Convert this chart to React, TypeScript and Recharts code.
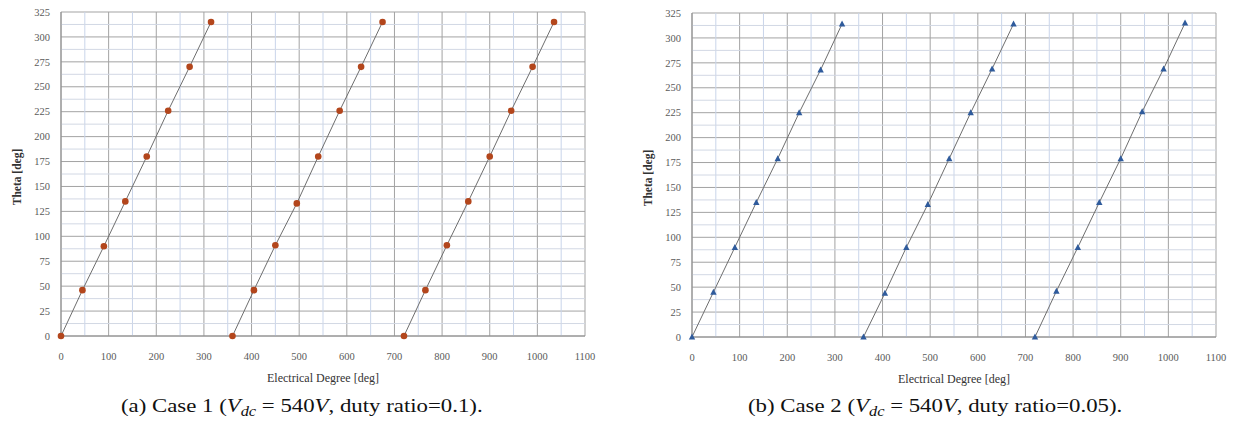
import React from 'react';
import { ScatterChart, Scatter, XAxis, YAxis, CartesianGrid, ReferenceLine } from 'recharts';

// electrical degree of each sample, three electrical periods
const xGroup1 = [0, 45, 90, 135, 180, 225, 270, 315];
const xGroup2 = [360, 405, 450, 495, 540, 585, 630, 675];
const xGroup3 = [720, 765, 810, 855, 900, 945, 990, 1035];

// Case 1 theta values
const caseA1 = [0, 46, 90, 135, 180, 226, 270, 315];
const caseA2 = [0, 46, 91, 133, 180, 226, 270, 315];
const caseA3 = [0, 46, 91, 135, 180, 226, 270, 315];

// Case 2 theta values
const caseB1 = [0, 45, 90, 135, 179, 225, 268, 314];
const caseB2 = [0, 44, 90, 133, 179, 225, 269, 314];
const caseB3 = [0, 46, 90, 135, 179, 226, 269, 315];

const xTicks = [0, 100, 200, 300, 400, 500, 600, 700, 800, 900, 1000, 1100];
const yTicks = [0, 25, 50, 75, 100, 125, 150, 175, 200, 225, 250, 275, 300, 325];
const xMinor = [50, 150, 250, 350, 450, 550, 650, 750, 850, 950, 1050];
const yMinor = [12.5, 37.5, 62.5, 87.5, 112.5, 137.5, 162.5, 187.5, 212.5, 237.5, 262.5, 287.5, 312.5];

const zip = (xs: number[], ys: number[]) => xs.map((x, i) => ({ x, y: ys[i] }));

const SERIF = "'Liberation Serif', 'DejaVu Serif', serif";
const tickStyle = { fontFamily: SERIF, fontSize: 10.5, fill: '#5a5a5a' };

const Circle = (p: any) => <circle cx={p.cx} cy={p.cy} r={3.3} fill="#b3461c" />;
const Triangle = (p: any) => (
  <polygon
    points={`${p.cx},${p.cy - 3.4} ${p.cx + 3.2},${p.cy + 2.6} ${p.cx - 3.2},${p.cy + 2.6}`}
    fill="#2f5b9c"
  />
);

const XTitle = (props: any) => {
  const vb = props.viewBox || {};
  return (
    <text
      x={vb.x + vb.width / 2}
      y={vb.y + 46}
      textAnchor="middle"
      fontFamily={SERIF}
      fontSize={12}
      fill="#333"
    >
      Electrical Degree [deg]
    </text>
  );
};

const YTitle = (props: any) => {
  const vb = props.viewBox || {};
  const x = vb.x - 0.5;
  const y = vb.y + vb.height / 2 + 3;
  return (
    <text
      x={x}
      y={y}
      textAnchor="middle"
      transform={`rotate(-90 ${x} ${y})`}
      fontFamily={SERIF}
      fontSize={11.5}
      fontWeight="bold"
      fill="#333"
    >
      Theta [deg]
    </text>
  );
};

type PanelProps = {
  series: number[][];
  Shape: any;
};

const Panel = ({ series, Shape }: PanelProps) => {
  const groups = [xGroup1, xGroup2, xGroup3];
  return (
    <ScatterChart width={620} height={395} margin={{ top: 12, right: 35, bottom: 29, left: 21 }}>
      {xMinor.map((v) => (
        <ReferenceLine key={'vx' + v} x={v} stroke="#c9d5ea" strokeWidth={1} />
      ))}
      {yMinor.map((v) => (
        <ReferenceLine key={'hy' + v} y={v} stroke="#d2d8e4" strokeWidth={1} />
      ))}
      <CartesianGrid stroke="#a3a3a3" strokeWidth={1} />
      <XAxis
        type="number"
        dataKey="x"
        domain={[0, 1100]}
        ticks={xTicks}
        tickLine={false}
        tickSize={5}
        tickMargin={12}
        axisLine={{ stroke: '#8c8c8c' }}
        tick={tickStyle}
        height={30}
        label={<XTitle />}
      />
      <YAxis
        type="number"
        dataKey="y"
        domain={[0, 325]}
        ticks={yTicks}
        tickLine={false}
        tickSize={5}
        tickMargin={6}
        axisLine={{ stroke: '#8c8c8c' }}
        tick={tickStyle}
        width={40}
        label={<YTitle />}
      />
      {series.map((ys, i) => (
        <Scatter
          key={i}
          data={zip(groups[i], ys)}
          line={{ stroke: '#6e6e6e', strokeWidth: 1 }}
          shape={Shape}
          isAnimationActive={false}
        />
      ))}
    </ScatterChart>
  );
};

const Caption = ({ label, caseNo, duty, left }: { label: string; caseNo: number; duty: string; left: number }) => (
  <div
    style={{
      position: 'absolute',
      left,
      top: 396,
      fontFamily: SERIF,
      fontSize: 19,
      lineHeight: '19px',
      whiteSpace: 'nowrap',
      color: '#111',
      transform: 'scaleX(1.2)',
      transformOrigin: 'left top',
    }}
  >
    ({label}) Case {caseNo} (<i>V</i>
    <span style={{ fontStyle: 'italic', fontSize: '0.72em', verticalAlign: '-0.3em' }}>dc</span>
    {' = 540'}
    <i>V</i>, duty ratio={duty}).
  </div>
);

export default function App() {
  return (
    <div
      style={{
        position: 'fixed',
        left: 0,
        top: 0,
        width: 1236,
        height: 426,
        background: '#fff',
        overflow: 'hidden',
      }}
    >
      <div style={{ position: 'absolute', left: 0, top: 0 }}>
        <Panel series={[caseA1, caseA2, caseA3]} Shape={Circle} />
      </div>
      <div style={{ position: 'absolute', left: 631, top: 1 }}>
        <Panel series={[caseB1, caseB2, caseB3]} Shape={Triangle} />
      </div>
      <Caption label="a" caseNo={1} duty="0.1" left={121} />
      <Caption label="b" caseNo={2} duty="0.05" left={748} />
    </div>
  );
}
